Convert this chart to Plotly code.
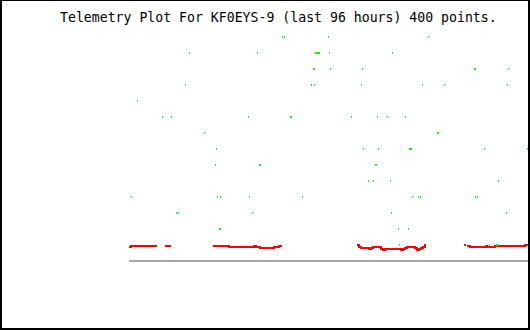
import plotly.graph_objects as go

TITLE = "Telemetry Plot For KF0EYS-9 (last 96 hours) 400 points."
N_POINTS = 400

# green samples: point index and level
green_idx = [232, 235, 352,
             153, 155, 199, 299,
             60, 128, 186, 187, 188, 189, 190, 200, 263,
             184, 185, 201, 233, 345, 346, 379,
             56, 182, 185, 232, 293, 315, 378,
             8,
             33, 42, 119, 161, 162, 222, 248, 258, 276,
             75, 308, 309,
             87, 234, 249, 280, 281, 282, 355, 398,
             86, 130, 131, 246, 247,
             239, 244, 261, 369,
             2, 88, 91, 120, 173, 283, 289, 291, 346, 348,
             47, 49, 123, 262, 377,
             90, 91, 269, 279,
             270, 360, 367, 368, 399]
green_level = [15, 15, 15,
               14, 14, 14, 14,
               13, 13, 13, 13, 13, 13, 13, 13, 13,
               12, 12, 12, 12, 12, 12, 12,
               11, 11, 11, 11, 11, 11, 11,
               10,
               9, 9, 9, 9, 9, 9, 9, 9, 9,
               8, 8, 8,
               7, 7, 7, 7, 7, 7, 7, 7,
               6, 6, 6, 6, 6,
               5, 5, 5, 5,
               4, 4, 4, 4, 4, 4, 4, 4, 4, 4,
               3, 3, 3, 3, 3,
               2, 2, 2, 2,
               1, 1, 1, 1, 1]

# red series as runs: start index, end index, value
red_start = [0, 2, 36, 84, 100, 125, 127, 131, 145, 150,
             228, 230, 232, 240, 242, 244, 252, 254, 256, 272, 274, 276, 278, 286, 288, 290, 292, 294, 296,
             335, 338, 341, 357, 358, 366, 370, 373, 396]
red_end = [2, 28, 42, 100, 125, 127, 131, 145, 150, 153,
           230, 232, 240, 242, 244, 252, 254, 256, 272, 274, 276, 278, 286, 288, 290, 292, 294, 296, 297,
           337, 341, 357, 358, 366, 370, 373, 396, 401]
red_value = [0.875, 0.9375, 0.9375, 0.9375, 0.875, 0.9375, 0.875, 0.8125, 0.875, 0.9375,
             1.0, 0.875, 0.8125, 0.75, 0.8125, 0.875, 0.75, 0.6875, 0.75, 0.6875, 0.75, 0.8125, 0.875,
             0.8125, 0.6875, 0.75, 0.8125, 0.875, 1.0,
             1.0, 0.9375, 0.875, 0.9375, 0.875, 0.9375, 0.9375, 0.9375, 1.0]

BASELINE = 0

rx, ry = [], []
prev_end = None
for s, e, v in zip(red_start, red_end, red_value):
    if prev_end is not None and s != prev_end:
        rx.append(None)
        ry.append(None)
    rx += [s, e]
    ry += [v, v]
    prev_end = e

fig = go.Figure()
fig.add_trace(go.Scatter(x=[0, N_POINTS + 1], y=[BASELINE, BASELINE], mode="lines",
                         line=dict(color="#a8a8a8", width=2), hoverinfo="skip"))
fig.add_trace(go.Scatter(x=rx, y=ry, mode="lines", line=dict(color="#ff0000", width=2),
                         hoverinfo="skip"))
fig.add_trace(go.Scatter(x=green_idx, y=green_level, mode="markers", xaxis="x2",
                         marker=dict(symbol="line-ns", size=1.43,
                                     line=dict(color="#00ff00", width=1)),
                         hoverinfo="skip"))

fig.update_layout(
    width=530, height=330,
    margin=dict(l=0, r=0, t=0, b=0),
    paper_bgcolor="white", plot_bgcolor="white",
    showlegend=False,
    xaxis=dict(range=[-129, 401], visible=False, fixedrange=True),
    xaxis2=dict(range=[-129.5, 400.5], visible=False, overlaying="x", fixedrange=True),
    yaxis=dict(range=[-4.3125, 16.3125], visible=False, fixedrange=True),
    annotations=[dict(text=TITLE, xref="paper", yref="paper", x=58 / 530, y=1 - 17 / 330,
                      xanchor="left", yanchor="middle", showarrow=False,
                      font=dict(family="DejaVu Sans Mono", size=13.2, color="black"))],
    shapes=[dict(type="rect", xref="paper", yref="paper", x0=1 / 530, x1=529 / 530,
                 y0=1 / 330, y1=1, line=dict(color="black", width=2))],
)

fig.write_html("out.html", config={"displayModeBar": False})
